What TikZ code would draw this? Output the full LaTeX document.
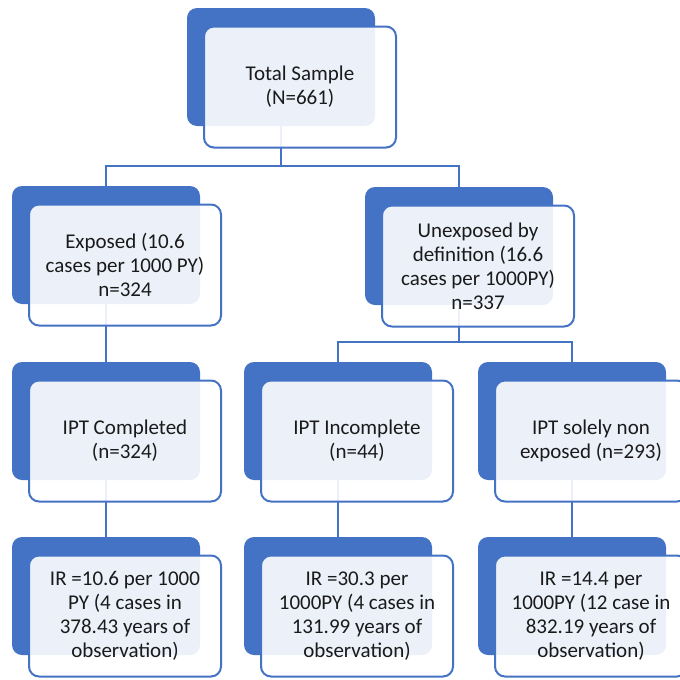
\documentclass[tikz,border=0pt]{standalone}
\usepackage{fontspec}
\setmainfont{Carlito}
\definecolor{acc}{HTML}{4472C4}
\definecolor{txt}{HTML}{1A1A1A}
\begin{document}
\begin{tikzpicture}[x=1pt,y=-1pt,
  back/.style={fill=acc, draw=none, rounded corners=10pt, minimum width=188pt, minimum height=118pt, inner sep=0pt},
  front/.style={fill=white, fill opacity=0.9, text opacity=1, draw=acc, line width=2pt, rounded corners=10pt,
    minimum width=192pt, minimum height=121pt, inner sep=0pt, align=center, text=txt,
    font=\fontsize{21}{24}\selectfont},
  conn/.style={draw=acc, line width=2pt}]
\useasboundingbox (0,0) rectangle (680,680);
% back boxes
\node[back] (b0) at (281,67) {};
\node[back] (b1) at (106,245) {};
\node[back] (b2) at (459,246) {};
\node[back] (b3) at (106,421) {};
\node[back] (b4) at (338,421) {};
\node[back] (b5) at (572,421) {};
\node[back] (b6) at (106,596) {};
\node[back] (b7) at (338,596) {};
\node[back] (b8) at (572,596) {};
% junctions
\coordinate (j0) at (0,166);
\coordinate (j2) at (0,342);
% connectors
\draw[conn] (b0.south) -- (b0.south|-j0) -| (b1.north);
\draw[conn] (b0.south|-j0) -| (b2.north);
\draw[conn] (b1.south) -- (b3.north);
\draw[conn] (b2.south) -- (b2.south|-j2) -| (b4.north);
\draw[conn] (b2.south|-j2) -| (b5.north);
\draw[conn] (b3.south) -- (b6.north);
\draw[conn] (b4.south) -- (b7.north);
\draw[conn] (b5.south) -- (b8.north);
% front boxes
\node[front] (f0) at (300,87) {Total Sample\\(N=661)};
\node[front] (f1) at (125,265) {Exposed (10.6\\cases per 1000 PY)\\n=324};
\node[front] (f2) at (478,266) {Unexposed by\\definition (16.6\\cases per 1000PY)\\n=337};
\node[front] (f3) at (125,441) {IPT Completed\\(n=324)};
\node[front] (f4) at (357,441) {IPT Incomplete\\(n=44)};
\node[front] (f5) at (591,441) {IPT solely non\\exposed (n=293)};
\node[front] (f6) at (125,616) {IR =10.6 per 1000\\PY (4 cases in\\378.43 years of\\observation)};
\node[front] (f7) at (357,616) {IR =30.3 per\\1000PY (4 cases in\\131.99 years of\\observation)};
\node[front] (f8) at (591,616) {IR =14.4 per\\1000PY (12 case in\\832.19 years of\\observation)};
\end{tikzpicture}
\end{document}
